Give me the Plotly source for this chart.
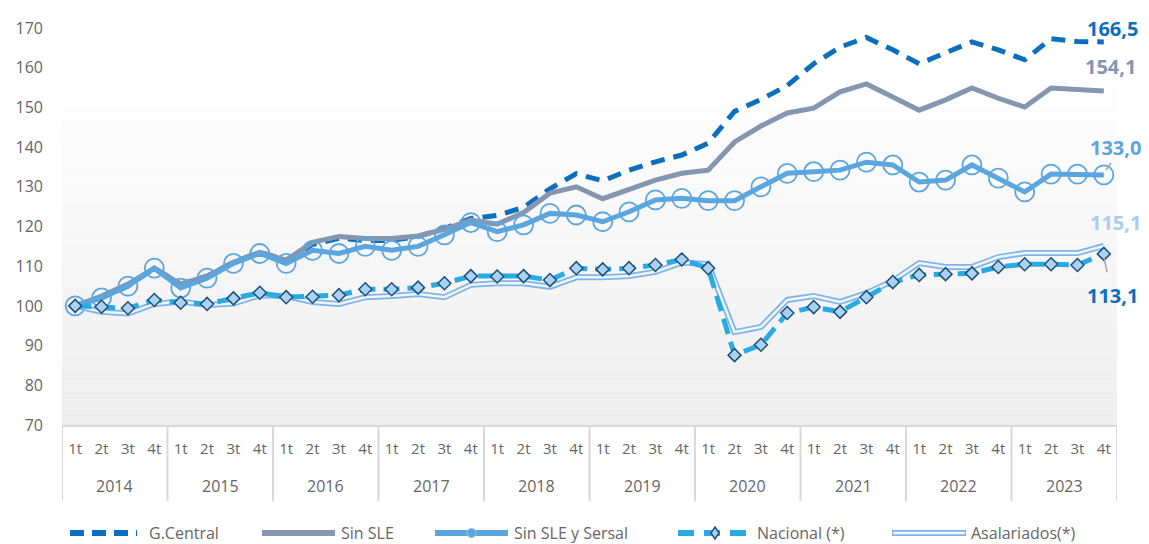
import plotly.graph_objects as go

years = ['2014', '2015', '2016', '2017', '2018', '2019', '2020', '2021', '2022', '2023']
quarters = ['1t', '2t', '3t', '4t']

g_central = [100, 102, 105, 109.5, 105.5, 107.5, 111, 113.5, 111.5, 115.5, 117, 116.5,
             116.5, 117.5, 119.5, 122, 122.8, 124.8, 129.5, 133.3, 131.5, 134.2, 136.3, 138,
             141, 149, 152, 155.5, 161, 165.2, 167.6, 164.5, 161, 163.6, 166.5, 164.5,
             162, 167.3, 166.6, 166.5]
sin_sle = [100, 102.5, 105.5, 109.5, 105.5, 107.5, 111, 113.5, 111.5, 116, 117.5, 117,
           117, 117.6, 119.3, 121.6, 120.6, 123.5, 128.4, 130, 127, 129.5, 131.7, 133.4,
           134.2, 141.3, 145.3, 148.6, 149.8, 153.9, 155.9, 152.6, 149.3, 151.9, 154.9, 152.3,
           150.1, 154.9, 154.4, 154.1]
sin_sle_sersal = [100, 102, 105, 109.5, 104.5, 107, 110.7, 113.2, 110.7, 114, 113.2, 115,
                  114, 115, 117.9, 121, 118.7, 120.4, 123.3, 122.9, 121.2, 123.7, 126.7, 127.1,
                  126.5, 126.5, 130, 133.4, 133.8, 134.2, 136.2, 135.5, 131.2, 131.7, 135.5, 132.2,
                  128.7, 133.2, 133.2, 133.0]
nacional = [100, 99.8, 99.4, 101.5, 100.8, 100.5, 101.9, 103.3, 102.2, 102.3, 102.7, 104.2,
            104.2, 104.6, 105.7, 107.5, 107.4, 107.5, 106.5, 109.5, 109.2, 109.5, 110.3, 111.7,
            109.5, 87.6, 90.2, 98.2, 99.7, 98.5, 102.2, 106, 107.8, 108, 108.2, 109.8,
            110.5, 110.5, 110.3, 113.1]
asalariados = [100, 98.5, 98.1, 100.5, 101.1, 100.2, 100.6, 102.7, 102.5, 101, 100.5, 102.2,
               102.5, 103, 102.2, 105.3, 105.7, 105.7, 104.8, 107.2, 107.2, 107.5, 108.6, 110.9,
               110.5, 93.4, 94.7, 101.5, 102.5, 101, 103.2, 106.3, 110.8, 109.8, 109.8, 112.3,
               113.3, 113.3, 113.3, 115.1]

end_labels = ['166,5', '154,1', '133,0', '115,1', '113,1']
legend_names = ['G.Central', 'Sin SLE', 'Sin SLE y Sersal', 'Nacional (*)', 'Asalariados(*)']

# position index of each quarter on the category axis
period_labels = [q for y in years for q in quarters]
x = list(range(len(period_labels)))
nq = len(quarters)

W, H = 1149, 544
L, R, T, B = 62, 32, 28, 119
PW = W - L - R
PH = H - T - B


def px(xp):
    return (xp - L) / PW


def py(yp):
    return (H - B - yp) / PH


C_GC = '#0B6FBE'
C_SLE = '#8496B0'
C_SER = '#5BA6DE'
C_NAC = '#2AAAE2'
C_ASA = '#7FB4E6'
C_ASA_IN = '#EEF5FC'
TXT = '#666666'
FONT = 'Open Sans'

fig = go.Figure()
fig.add_trace(go.Scatter(x=x, y=g_central, mode='lines', name=legend_names[0],
                         line=dict(color=C_GC, width=5, dash='14px,9px'), showlegend=False))
fig.add_trace(go.Scatter(x=x, y=sin_sle, mode='lines', name=legend_names[1],
                         line=dict(color=C_SLE, width=5), showlegend=False))
fig.add_trace(go.Scatter(x=x, y=sin_sle_sersal, mode='lines+markers', name=legend_names[2],
                         line=dict(color=C_SER, width=5),
                         marker=dict(symbol='circle-open', size=19, color=C_SER,
                                     line=dict(width=1.8, color=C_SER)),
                         showlegend=False))
fig.add_trace(go.Scatter(x=x, y=asalariados, mode='lines', name=legend_names[4],
                         line=dict(color=C_ASA, width=6), showlegend=False))
fig.add_trace(go.Scatter(x=x, y=asalariados, mode='lines', name=legend_names[4],
                         line=dict(color=C_ASA_IN, width=2.5), showlegend=False,
                         hoverinfo='skip'))
fig.add_trace(go.Scatter(x=x, y=nacional, mode='lines+markers', name=legend_names[3],
                         line=dict(color=C_NAC, width=5, dash='16px,8px'),
                         marker=dict(symbol='diamond', size=10, color='#A9D3F0',
                                     line=dict(width=1.5, color='#1F4E79')),
                         showlegend=False))

shapes = []
# gradient background of the plot area
N = 40
top_px, bot_px = 72, 426
for i in range(N):
    y0p = top_px + (bot_px - top_px) * i / N
    y1p = top_px + (bot_px - top_px) * (i + 1) / N
    v = round(255 - 17 * (i + 0.5) / N)
    shapes.append(dict(type='rect', xref='paper', yref='paper', x0=0, x1=1,
                       y0=py(y1p), y1=py(y0p), layer='below', line=dict(width=0),
                       fillcolor=f'rgb({v},{v},{v})'))

# category box: top line and year dividers
shapes.append(dict(type='line', xref='paper', yref='paper', x0=0, x1=1, y0=py(426), y1=py(426),
                   line=dict(color='#D9D9D9', width=2)))
for k in range(len(years) + 1):
    shapes.append(dict(type='line', xref='x', yref='paper', x0=k * nq - 0.5, x1=k * nq - 0.5,
                       y0=py(426), y1=py(501), line=dict(color='#D9D9D9', width=2)))

# leader lines for end labels
shapes.append(dict(type='line', xref='paper', yref='paper', x0=px(1104), x1=px(1107),
                   y0=py(257), y1=py(272), line=dict(color='#A6A6A6', width=1.5)))
shapes.append(dict(type='line', xref='paper', yref='paper', x0=px(1106), x1=px(1111),
                   y0=py(170), y1=py(163), line=dict(color='#A6A6A6', width=1.5)))

# manual legend
ly = py(533)
shapes.append(dict(type='line', xref='paper', yref='paper', x0=px(70), x1=px(137), y0=ly, y1=ly,
                   line=dict(color=C_GC, width=6, dash='14px,8px')))
shapes.append(dict(type='line', xref='paper', yref='paper', x0=px(262), x1=px(335), y0=ly, y1=ly,
                   line=dict(color=C_SLE, width=6)))
shapes.append(dict(type='line', xref='paper', yref='paper', x0=px(435), x1=px(508), y0=ly, y1=ly,
                   line=dict(color=C_SER, width=6)))
shapes.append(dict(type='circle', xref='paper', yref='paper', x0=px(467), x1=px(476),
                   y0=py(537.5), y1=py(528.5), fillcolor=C_SER, line=dict(color='#8CC2EA', width=1)))
shapes.append(dict(type='line', xref='paper', yref='paper', x0=px(678), x1=px(752), y0=ly, y1=ly,
                   line=dict(color=C_NAC, width=6, dash='16px,10px')))
cx, cy = 715, 533
shapes.append(dict(type='path', xref='paper', yref='paper',
                   path=f'M {px(cx)} {py(cy-6)} L {px(cx+4)} {py(cy)} L {px(cx)} {py(cy+6)} L {px(cx-4)} {py(cy)} Z',
                   fillcolor='#A9D3F0', line=dict(color='#1F4E79', width=1.5)))
shapes.append(dict(type='line', xref='paper', yref='paper', x0=px(892), x1=px(966), y0=ly, y1=ly,
                   line=dict(color=C_ASA, width=6)))
shapes.append(dict(type='line', xref='paper', yref='paper', x0=px(893), x1=px(965), y0=ly, y1=ly,
                   line=dict(color=C_ASA_IN, width=2.5)))

annotations = []
leg_text_x = [147, 339, 512, 755, 969]
for name, tx in zip(legend_names, leg_text_x):
    annotations.append(dict(text=name, xref='paper', yref='paper', x=px(tx), y=ly,
                            xanchor='left', yanchor='middle', showarrow=False,
                            font=dict(size=16, color=TXT, family=FONT)))

# year labels (second level of the category axis)
for k, yr in enumerate(years):
    annotations.append(dict(text=yr, xref='x', yref='paper', x=k * nq + (nq - 1) / 2, y=py(486),
                            xanchor='center', yanchor='middle', showarrow=False,
                            font=dict(size=16, color=TXT, family=FONT)))

label_colors = [C_GC, C_SLE, C_SER, '#A9CDEF', C_GC]
label_left_px = [1085, 1083, 1088, 1088, 1085]
label_cy_px = [28, 67, 147, 223, 295]
for txt, col, lx, cy in zip(end_labels, label_colors, label_left_px, label_cy_px):
    annotations.append(dict(text=f'<b>{txt}</b>', xref='paper', yref='paper', x=px(lx), y=py(cy),
                            xanchor='left', yanchor='middle', showarrow=False,
                            font=dict(size=20, color=col, family=FONT)))

fig.update_layout(
    width=W, height=H,
    margin=dict(l=L, r=R, t=T, b=B, pad=0),
    paper_bgcolor='white', plot_bgcolor='white',
    showlegend=False,
    shapes=shapes,
    annotations=annotations,
    font=dict(family=FONT, color=TXT),
    xaxis=dict(range=[-0.5, len(x) - 0.5], tickvals=x, ticktext=period_labels,
               showline=False, ticks='', showgrid=False, zeroline=False,
               ticklabelstandoff=13,
               tickfont=dict(size=15, color=TXT, family=FONT)),
    yaxis=dict(range=[70, 170], tickvals=list(range(70, 171, 10)), showgrid=False,
               zeroline=False, showline=False, ticks='', ticklabelstandoff=18,
               tickfont=dict(size=16, color=TXT, family=FONT)),
)

fig.write_html('out.html')
